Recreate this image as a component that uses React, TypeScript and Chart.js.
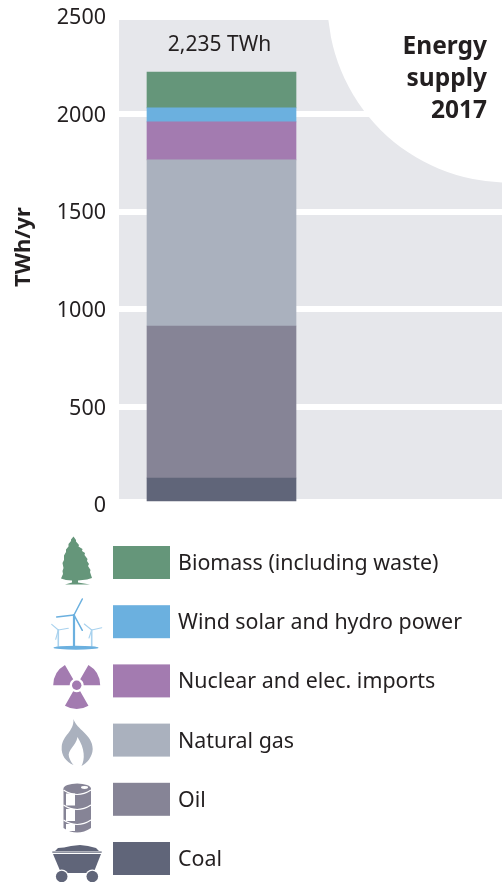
import React, { useEffect, useRef } from "react";
import { Chart, registerables } from "chart.js";

Chart.register(...registerables);

const categories = ["2017"];
const sources = ["Coal", "Oil", "Natural gas", "Nuclear and elec. imports", "Wind solar and hydro power", "Biomass (including waste)"];
const values = [120, 792, 865, 198, 73, 187];
const colours = ["#606579", "#868496", "#aab1be", "#a37bb0", "#6bb0df", "#65967a"];
const totalLabel = "2,235 TWh";
const axisTitle = "TWh/yr";
const cornerTitle = ["Energy", "supply", "2017"];
const axisTicks = [0, 500, 1000, 1500, 2000, 2500];

const FONT = '"Noto Sans"';
const INK = "#231f20";
const BAND = "#e6e7eb";

type Ctx = CanvasRenderingContext2D;

function drawTree(c: Ctx, col: string) {
  c.fillStyle = col;
  c.beginPath();
  c.moveTo(73.5, 536.5);
  const right: [number, number][] = [
    [76, 540], [76, 541.5], [79, 545], [78.5, 546.5], [82.5, 549], [82, 551], [85, 553], [84.5, 555], [87.5, 559],
    [87, 561], [89, 564], [88, 566], [90.5, 570], [90, 572], [92, 578], [87, 579.5], [78, 580.5],
  ];
  right.forEach(([x, y]) => c.lineTo(x, y));
  c.lineTo(78, 582.5);
  c.lineTo(90, 584.5);
  c.lineTo(65, 584.5);
  c.lineTo(72, 582.5);
  c.lineTo(72, 580.5);
  const left: [number, number][] = [
    [66, 580], [61, 578.5], [63, 574], [62.5, 571], [63.5, 568], [62.5, 563], [64, 560], [64, 555.5], [66, 552],
    [66, 549.5], [68.5, 546.5], [68.5, 544], [71, 541], [71, 539.5],
  ];
  left.forEach(([x, y]) => c.lineTo(x, y));
  c.closePath();
  c.fill();
}

function drawTurbine(c: Ctx, hx: number, hy: number, baseY: number, tips: [number, number][], col: string, w: number) {
  c.strokeStyle = col;
  c.lineCap = "round";
  c.lineWidth = w;
  c.beginPath();
  c.moveTo(hx, hy);
  c.lineTo(hx, baseY);
  c.stroke();
  c.lineWidth = w * 0.7;
  tips.forEach(([x, y]) => {
    c.beginPath();
    c.moveTo(hx, hy);
    c.lineTo(x, y);
    c.stroke();
  });
}

function drawWind(c: Ctx, col: string) {
  drawTurbine(c, 58.3, 630, 646, [[51.7, 624.3], [68.3, 628.3], [55.7, 639.3]], "#a9d2ee", 1.6);
  drawTurbine(c, 91.7, 630, 646, [[84.3, 624], [101.7, 627.7], [89, 638]], "#a9d2ee", 1.6);
  drawTurbine(c, 74, 615, 646, [[82.3, 599], [56.7, 617], [82.3, 630.3]], col, 2.2);
  c.fillStyle = col;
  c.beginPath();
  c.ellipse(76, 647.7, 22.5, 2, 0, 0, Math.PI * 2);
  c.fill();
}

function drawRadiation(c: Ctx, col: string) {
  const cx = 76.7;
  const cy = 685.3;
  c.fillStyle = col;
  [[180, 240], [300, 360], [60, 120]].forEach(([a, b]) => {
    c.beginPath();
    c.arc(cx, cy, 23.5, (a * Math.PI) / 180, (b * Math.PI) / 180);
    c.arc(cx, cy, 7, (b * Math.PI) / 180, (a * Math.PI) / 180, true);
    c.closePath();
    c.fill();
  });
  c.beginPath();
  c.arc(cx, cy, 4.7, 0, Math.PI * 2);
  c.fill();
}

function drawFlame(c: Ctx, col: string) {
  c.fillStyle = col;
  c.beginPath();
  c.moveTo(73.5, 719);
  c.bezierCurveTo(76, 729, 93, 735, 92.7, 749);
  c.bezierCurveTo(92.5, 757, 87, 763, 81.5, 766);
  c.bezierCurveTo(85, 759, 85, 749, 77.5, 737);
  c.bezierCurveTo(76, 746, 67, 750, 69, 757);
  c.bezierCurveTo(70, 760, 71, 762, 73.5, 765);
  c.bezierCurveTo(66, 762, 61, 755, 61.7, 747);
  c.bezierCurveTo(62.5, 735, 74, 732, 73.5, 719);
  c.closePath();
  c.fill();
}

function drawBarrel(c: Ctx, col: string) {
  const l = 63.5;
  const r = 91;
  c.fillStyle = col;
  c.beginPath();
  c.moveTo(l, 789);
  c.lineTo(l, 828);
  c.quadraticCurveTo(77, 837, r, 828);
  c.lineTo(r, 789);
  c.closePath();
  c.fill();
  c.beginPath();
  c.ellipse(77.2, 789, 13.8, 5.5, 0, 0, Math.PI * 2);
  c.fill();
  c.fillStyle = "#ffffff";
  c.beginPath();
  c.ellipse(84.5, 787.5, 3.5, 1.4, 0, 0, Math.PI * 2);
  c.fill();
  c.fillRect(66, 793.5, 9, 12);
  c.fillRect(66, 809, 9, 12);
  c.fillRect(66, 824, 9, 7);
  c.strokeStyle = "#ffffff";
  c.lineWidth = 1.2;
  [[790, 796], [805, 811], [820, 826]].forEach(([edge, mid]) => {
    c.beginPath();
    c.moveTo(l, edge);
    c.quadraticCurveTo(77, mid + 3, r, edge);
    c.stroke();
  });
}

function drawCart(c: Ctx, col: string) {
  c.fillStyle = col;
  c.beginPath();
  c.moveTo(55, 851);
  c.lineTo(58, 848);
  c.lineTo(64, 847.5);
  c.lineTo(71, 846);
  c.lineTo(80, 845);
  c.lineTo(88, 846);
  c.lineTo(96, 848);
  c.lineTo(99, 851);
  c.closePath();
  c.fill();
  c.fillRect(52.3, 851.5, 49.4, 1.2);
  c.beginPath();
  c.moveTo(53, 854);
  c.lineTo(101, 854);
  c.lineTo(93.5, 873);
  c.lineTo(61, 873);
  c.closePath();
  c.fill();
  [61.7, 92.3].forEach((x) => {
    c.fillStyle = "#ffffff";
    c.beginPath();
    c.arc(x, 876.5, 7, 0, Math.PI * 2);
    c.fill();
    c.fillStyle = col;
    c.beginPath();
    c.arc(x, 876.5, 5.8, 0, Math.PI * 2);
    c.fill();
  });
}

// Gray bands behind the plot, with the round white corner that holds the heading.
const backdrop = {
  id: "backdrop",
  beforeDraw(chart: Chart) {
    const c = chart.ctx;
    c.save();
    c.fillStyle = BAND;
    c.fillRect(119, 20, 383, 479);
    c.fillStyle = "#ffffff";
    c.beginPath();
    c.arc(508, 2, 180.5, 0, Math.PI * 2);
    c.fill();
    c.restore();
  },
};

// Total above the bar, axis name, heading, and the icon legend below the plot.
const annotations = {
  id: "annotations",
  afterDraw(chart: Chart) {
    const c = chart.ctx;
    c.save();
    c.fillStyle = INK;
    c.textBaseline = "alphabetic";

    c.textAlign = "center";
    c.font = `21px ${FONT}`;
    c.fillText(totalLabel, 219.5, 51);

    c.textAlign = "right";
    c.font = `bold 24.5px ${FONT}`;
    cornerTitle.forEach((line, i) => c.fillText(line, 487, 54 + i * 32));

    c.save();
    c.translate(30, 247);
    c.rotate(-Math.PI / 2);
    c.textAlign = "center";
    c.font = `bold 22px ${FONT}`;
    c.fillText(axisTitle, 0, 0);
    c.restore();

    const painters = [drawCart, drawBarrel, drawFlame, drawRadiation, drawWind, drawTree];
    const rowTop = (i: number) => 546 + (5 - i) * 59.2;
    sources.forEach((name, i) => {
      const top = rowTop(i);
      c.fillStyle = colours[i];
      c.fillRect(113, top, 57, 33);
      c.fillStyle = INK;
      c.textAlign = "left";
      c.font = `21.4px ${FONT}`;
      c.fillText(name, 178, top + 24);
      painters[i](c, colours[i]);
    });
    c.restore();
  },
};

export default function App() {
  const ref = useRef<HTMLCanvasElement>(null);

  useEffect(() => {
    document.body.style.margin = "0";
    const chart = new Chart(ref.current!, {
      type: "bar",
      data: {
        labels: [...categories, ""],
        datasets: sources.map((label, i) => ({
          label,
          data: [values[i]],
          backgroundColor: colours[i],
          barThickness: 149,
          yAxisID: "yBar",
        })),
      },
      options: {
        animation: false,
        responsive: false,
        devicePixelRatio: 1,
        layout: { padding: { top: 16.5, bottom: 377.5, left: 0, right: 0 } },
        plugins: { legend: { display: false }, tooltip: { enabled: false }, title: { display: false } },
        scales: {
          x: { stacked: true, display: false },
          y: {
            position: "left",
            min: 0,
            max: 2500,
            afterBuildTicks(scale: any) {
              scale.ticks = axisTicks.map((value) => ({ value }));
            },
            afterFit(scale: any) {
              scale.width = 128;
              scale.paddingTop = 0;
              scale.paddingBottom = 0;
            },
            border: { display: false },
            grid: { color: "#ffffff", lineWidth: 6, tickLength: 9, tickColor: "#ffffff", drawTicks: true },
            ticks: {
              color: INK,
              padding: 13,
              labelOffset: 1.5,
              font: { family: "Noto Sans", size: 21.5 },
              callback: (v: any) => String(v),
            },
          },
          // The columns sit on their own hidden scale: the bar's foot is a little above the 0 gridline.
          yBar: {
            display: false,
            stacked: true,
            min: -18,
            max: 2524,
            grid: { display: false },
          },
        },
      },
      plugins: [backdrop, annotations],
    } as any);
    return () => chart.destroy();
  }, []);

  return <canvas ref={ref} width={502} height={882} style={{ display: "block" }} />;
}
